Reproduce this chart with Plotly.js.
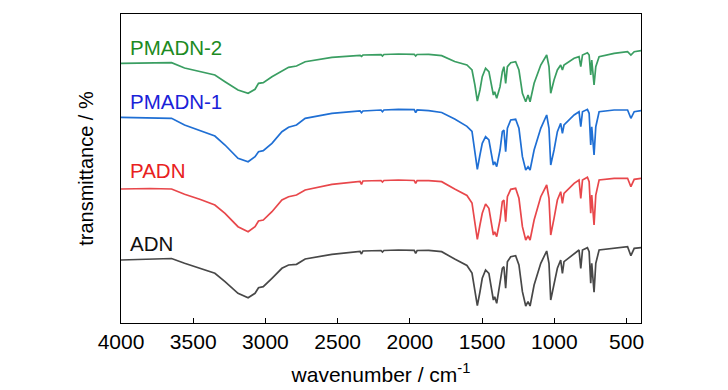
<!DOCTYPE html>
<html>
<head>
<meta charset="utf-8">
<script src="https://cdn.plot.ly/plotly-3.0.1.min.js"></script>
<style>html,body{margin:0;padding:0;background:#fff}#chart{width:728px;height:390px}</style>
</head>
<body>
<div id="chart"></div>
<script>
const wavenumber = [4000,3800,3650,3560,3450,3350,3280,3190,3120,3072,3048,3015,2955,2886,2840,2785,2725,2540,2345,2335,2325,2200,2190,2180,2080,1970,1960,1950,1870,1780,1690,1605,1570,1550,1533,1515,1499,1476,1453,1422,1413,1399,1376,1360,1349,1337,1325,1302,1268,1245,1221,1198,1182,1168,1140,1094,1053,1037,1025,1002,979,956,944,933,863,829,817,805,771,759,748,741,725,713,690,586,493,470,447,400];

const pmadn2 = [259.7,260,260.3,255,251,248,241.3,233,229.7,233.7,239.7,240.3,246.3,252.3,255.7,257,261.3,265.7,267.7,266.7,268,268.3,267,268.5,269,268.7,267,268.5,268.7,267.3,261.5,258,253,238,222,233,246.3,254.7,251.3,228,231.3,224.7,236.3,251.3,256.3,239.7,256.3,260.3,261.3,253,229.7,221.3,228,221.3,239.7,258,268,256.3,229.7,243,253,258,253,258,264.7,266.3,256.3,268,270.3,268,248,263,238,256.3,266.3,269.7,271.3,268,271.3,272.3];

const pmadn1 = [205.7,205.2,204.7,198,192.5,187,178,164.7,161.3,166.3,171.3,172.3,179.7,191.3,195.7,198,204.7,209.7,212,210.3,212,213,211.3,213,213.7,213.3,210.3,213,212.3,210.5,204,196.7,191.5,173,153.7,168,179.7,186.3,183,158,161.3,156.3,173,191.3,193,171.3,194.7,203,203.7,194.7,166.3,153,156.3,153,173,194.7,208,194.7,158,173,191.3,199.7,189.7,198,208,211.3,196.3,211.3,213.7,209.7,178,196.3,168,196.3,211.3,213,213,204.7,211.3,212.3];

const padn = [134,134.5,134,128.7,123.5,118,109.7,96.3,91.3,96.3,102,103,111.3,123,126.3,128,133,138.7,141.5,138.7,142,142.5,141,142.5,143,142.5,139.7,142.3,142.3,141.3,134,127.5,120,101,83.7,98,109.7,119,114.7,88,91.3,86.3,103,121.3,123,101.3,126.3,133.7,134.7,124.7,96.3,83,87,83,103,126.3,138,124.7,88,104.7,123,131.3,119.7,129.7,139.7,143,124.7,143,145.7,141.3,109.7,128,98,128,143,144.7,144.7,136.3,143.7,144.7];

const adn = [63,64,64.5,59.7,54.5,49.7,41.3,29.7,25.3,29.7,35.3,36.3,44.7,54.7,58,58.7,64,68.7,71.5,69,72,72.5,71,72.5,73,72.7,69.7,72.5,72.7,71.3,64,57.5,50,33,17.3,31,44.7,53,49.7,23,26.3,19.7,38,54.7,56.3,34.7,61.3,66.3,67.3,58,31.3,17,21.3,17,38,59.7,72,59.7,23,38,54.7,63,49.7,61.3,69.7,73,54.7,73,75.3,71.3,39.7,59.7,30.7,59.7,73,74.7,76.3,67.3,74.7,75.3];

const seriesNames = ["PMADN-2","PMADN-1","PADN","ADN"];
const labelY = [276, 222, 153, 80];
const xTicks = [4000,3500,3000,2500,2000,1500,1000,500];

const lineColors = ["#3a9e62","#1f6fd4","#e8474b","#484848"];
const textColors = ["#1c8a22","#1a22d8","#e82020","#111111"];
const allY = [pmadn2, pmadn1, padn, adn];

const traces = allY.map((y, i) => ({
  x: wavenumber, y: y, type: "scatter", mode: "lines", name: seriesNames[i],
  line: {color: lineColors[i], width: 1.7}, hoverinfo: "skip"
}));

const FONT = "Liberation Sans, Arial, sans-serif";
const annotations = seriesNames.map((n, i) => ({
  x: 3952, y: labelY[i], xref: "x", yref: "y", text: n, showarrow: false,
  xanchor: "left", yanchor: "middle", font: {family: FONT, size: 20.5, color: textColors[i]}
}));

const layout = {
  width: 728, height: 390,
  margin: {l: 121, r: 87, t: 14, b: 67},
  paper_bgcolor: "#fff", plot_bgcolor: "#fff",
  showlegend: false,
  font: {family: FONT, size: 21, color: "#000"},
  xaxis: {
    range: [4000, 400], autorange: false,
    tickmode: "array", tickvals: xTicks, ticktext: xTicks.map(String),
    ticks: "inside", ticklen: 5, tickwidth: 1, tickcolor: "#000",
    showline: true, mirror: true, linecolor: "#000", linewidth: 1.2,
    showgrid: false, zeroline: false,
    tickfont: {family: FONT, size: 21, color: "#000"},
    title: {text: "wavenumber / cm<sup>-1</sup>", font: {family: FONT, size: 21, color: "#000"}, standoff: 14}
  },
  yaxis: {
    range: [0, 309], autorange: false,
    showticklabels: false, ticks: "",
    showline: true, mirror: true, linecolor: "#000", linewidth: 1.2,
    showgrid: false, zeroline: false,
    title: {text: "transmittance / %", font: {family: FONT, size: 20, color: "#000"}, standoff: 20}
  },
  annotations: annotations
};

Plotly.newPlot("chart", traces, layout, {displayModeBar: false, staticPlot: true});
</script>
</body>
</html>
